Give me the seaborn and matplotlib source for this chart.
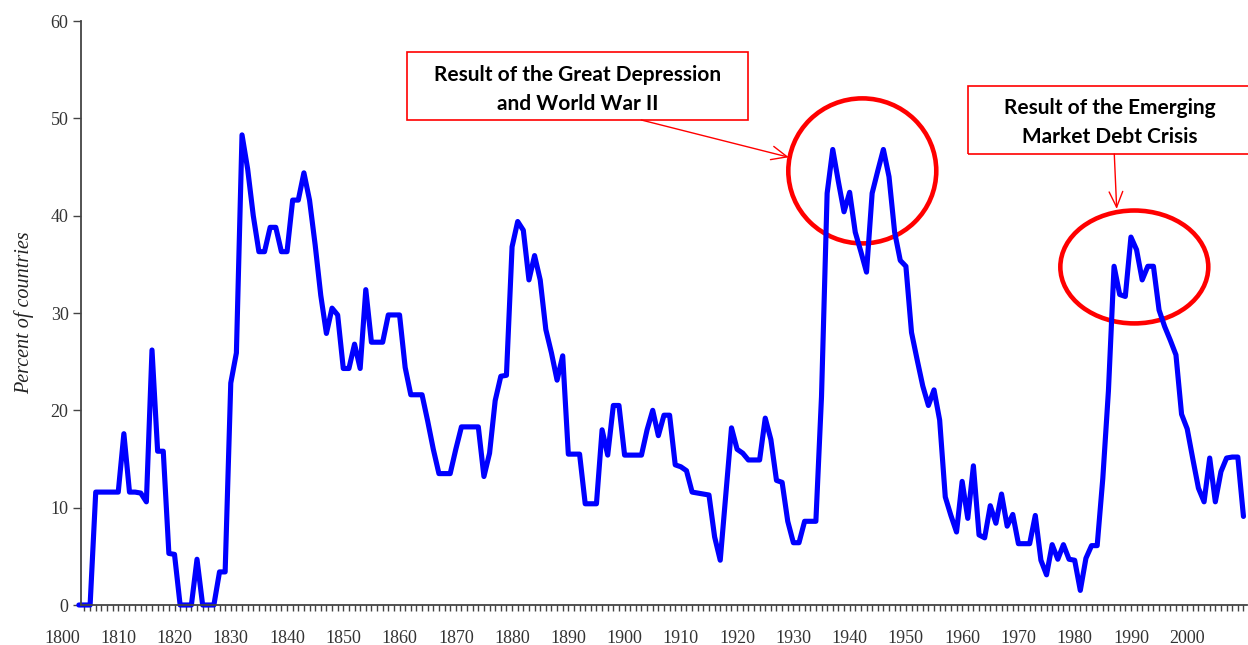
import numpy as np
import pandas as pd
import matplotlib
matplotlib.use("Agg")
import matplotlib.pyplot as plt
from matplotlib.patches import Ellipse, Rectangle
import seaborn as sns

# ============================================================
# DATA : percent of countries in default, one value per year
# ============================================================
years = list(range(1803, 2011))

pct_1803_1850 = [
    0, 0, 0, 11.6, 11.6, 11.6, 11.6, 11.6, 17.6, 11.6,        # 1803-1812
    11.6, 11.5, 10.6, 26.2, 15.8, 15.8, 5.3, 5.2, 0, 0,        # 1813-1822
    0, 4.7, 0, 0, 0, 3.4, 3.4, 22.8, 25.9, 48.3,               # 1823-1832
    44.8, 40.0, 36.3, 36.3, 38.8, 38.8, 36.3, 36.3, 41.6, 41.6, # 1833-1842
    44.4, 41.6, 37.0, 31.8, 27.9, 30.5, 29.8, 24.3,            # 1843-1850
]
pct_1851_1900 = [
    24.3, 26.8, 24.3, 32.4, 27.0, 27.0, 27.0, 29.8, 29.8, 29.8, # 1851-1860
    24.4, 21.6, 21.6, 21.6, 18.9, 16.0, 13.5, 13.5, 13.5, 16.0, # 1861-1870
    18.3, 18.3, 18.3, 18.3, 13.2, 15.6, 21.0, 23.5, 23.6, 36.8, # 1871-1880
    39.4, 38.5, 33.4, 35.9, 33.4, 28.3, 25.9, 23.1, 25.6, 15.5, # 1881-1890
    15.5, 15.5, 10.4, 10.4, 10.4, 18.0, 15.4, 20.5, 20.5, 15.4, # 1891-1900
]
pct_1901_1950 = [
    15.4, 15.4, 15.4, 18.0, 20.0, 17.4, 19.5, 19.5, 14.4, 14.2, # 1901-1910
    13.8, 11.6, 11.5, 11.4, 11.3, 7.0, 4.6, 11.4, 18.2, 16.0,   # 1911-1920
    15.6, 14.9, 14.9, 14.9, 19.2, 17.0, 12.8, 12.6, 8.6, 6.4,   # 1921-1930
    6.4, 8.6, 8.6, 8.6, 21.4, 42.3, 46.8, 43.5, 40.4, 42.4,     # 1931-1940
    38.3, 36.3, 34.2, 42.3, 44.6, 46.8, 44.0, 38.3, 35.4, 34.8, # 1941-1950
]
pct_1951_2010 = [
    28.0, 25.2, 22.5, 20.5, 22.1, 19.0, 11.1, 9.2, 7.5, 12.7,   # 1951-1960
    8.9, 14.3, 7.2, 6.9, 10.2, 8.4, 11.4, 8.1, 9.3, 6.3,        # 1961-1970
    6.3, 6.3, 9.2, 4.6, 3.1, 6.2, 4.7, 6.2, 4.7, 4.6,           # 1971-1980
    1.5, 4.8, 6.1, 6.1, 13.0, 22.0, 34.8, 31.9, 31.7, 37.8,     # 1981-1990
    36.5, 33.4, 34.8, 34.8, 30.3, 28.6, 27.2, 25.7, 19.6, 18.1, # 1991-2000
    15.0, 12.0, 10.6, 15.1, 10.6, 13.7, 15.1, 15.2, 15.2, 9.1,  # 2001-2010
]
percent = pct_1803_1850 + pct_1851_1900 + pct_1901_1950 + pct_1951_2010

decade_ticks = list(range(1800, 2001, 10))
y_ticks = [0, 10, 20, 30, 40, 50, 60]

label_ww2 = "Result of the Great Depression\nand World War II"
label_emd = "Result of the Emerging\nMarket Debt Crisis"

df = pd.DataFrame({"year": years, "percent": percent})

# ============================================================
# STYLE
# ============================================================
sns.set_style("ticks")
plt.rcParams["font.family"] = ["Liberation Serif", "DejaVu Serif"]

fig = plt.figure(figsize=(12.48, 6.45), dpi=100)
ax = fig.add_axes([81 / 1248, 40 / 645, 1166 / 1248, 584 / 645])

sns.lineplot(data=df, x="year", y="percent", color="#0000FF",
             linewidth=3.7, ax=ax)
line = ax.lines[0]
line.set_clip_on(False)
line.set_solid_joinstyle("round")
line.set_solid_capstyle("round")

# ticks first, limits after (set_xticks would widen the view)
ax.set_xticks(decade_ticks)
ax.set_xticks(years, minor=True)
ax.set_yticks(y_ticks)
ax.set_xlim(1803.38, 2010.63)
ax.set_ylim(0, 60)
ax.set_xlabel("")
ax.set_ylabel("Percent of countries", fontsize=14.5, style="italic",
              color="#222222", labelpad=12)

sns.despine(ax=ax)
for side in ["left", "bottom"]:
    ax.spines[side].set_color("#444444")
    ax.spines[side].set_linewidth(1.3)

tick_len, tick_pad = 4, 14
ax.tick_params(axis="x", which="both", direction="out", length=tick_len,
               width=1.0, color="#444444", labelsize=13,
               labelcolor="#333333", pad=tick_pad)
ax.tick_params(axis="y", direction="out", length=6, width=1.0,
               color="#444444", labelsize=13, labelcolor="#333333", pad=3)

# the first decade label sits left of the axis start, so the tick
# machinery drops it; draw it the same way by hand
first = decade_ticks[0]
ax.annotate(str(first), xy=(first, 0), xycoords=("data", "axes fraction"),
            xytext=(0, -(tick_len + tick_pad)), textcoords="offset points",
            ha="center", va="top", fontsize=13, color="#333333",
            annotation_clip=False)

# ============================================================
# ANNOTATIONS
# ============================================================
red = "#FF0000"
box_font = ["Lato", "DejaVu Sans"]

ax.add_patch(Rectangle((1861.32, 49.83), 60.61, 6.99, fill=False,
                       edgecolor=red, linewidth=1.2, clip_on=False))
ax.text(1891.6, 53.0, label_ww2, ha="center", va="center",
        fontsize=15, fontweight="bold", family=box_font,
        linespacing=1.55, color="black")

ax.add_patch(Rectangle((1961.09, 46.34), 60.0, 6.99, fill=False,
                       edgecolor=red, linewidth=1.2, clip_on=False))
ax.text(1986.3, 49.6, label_emd, ha="center", va="center",
        fontsize=15, fontweight="bold", family=box_font,
        linespacing=1.55, color="black")

ax.add_patch(Ellipse((1942.25, 44.6), 26.3, 14.9, fill=False,
                     edgecolor=red, linewidth=3.3, clip_on=False))
ax.add_patch(Ellipse((1990.6, 34.73), 26.3, 11.6, fill=False,
                     edgecolor=red, linewidth=3.3, clip_on=False))

arrow = dict(arrowstyle="->,head_length=0.8,head_width=0.35",
             color=red, linewidth=1.0, shrinkA=0, shrinkB=0,
             mutation_scale=14)
ax.annotate("", xy=(1929.2, 46.0), xytext=(1902.96, 49.83),
            arrowprops=arrow, annotation_clip=False)
ax.annotate("", xy=(1987.47, 40.69), xytext=(1987.04, 46.34),
            arrowprops=arrow, annotation_clip=False)

fig.savefig("out.png", dpi=100)
